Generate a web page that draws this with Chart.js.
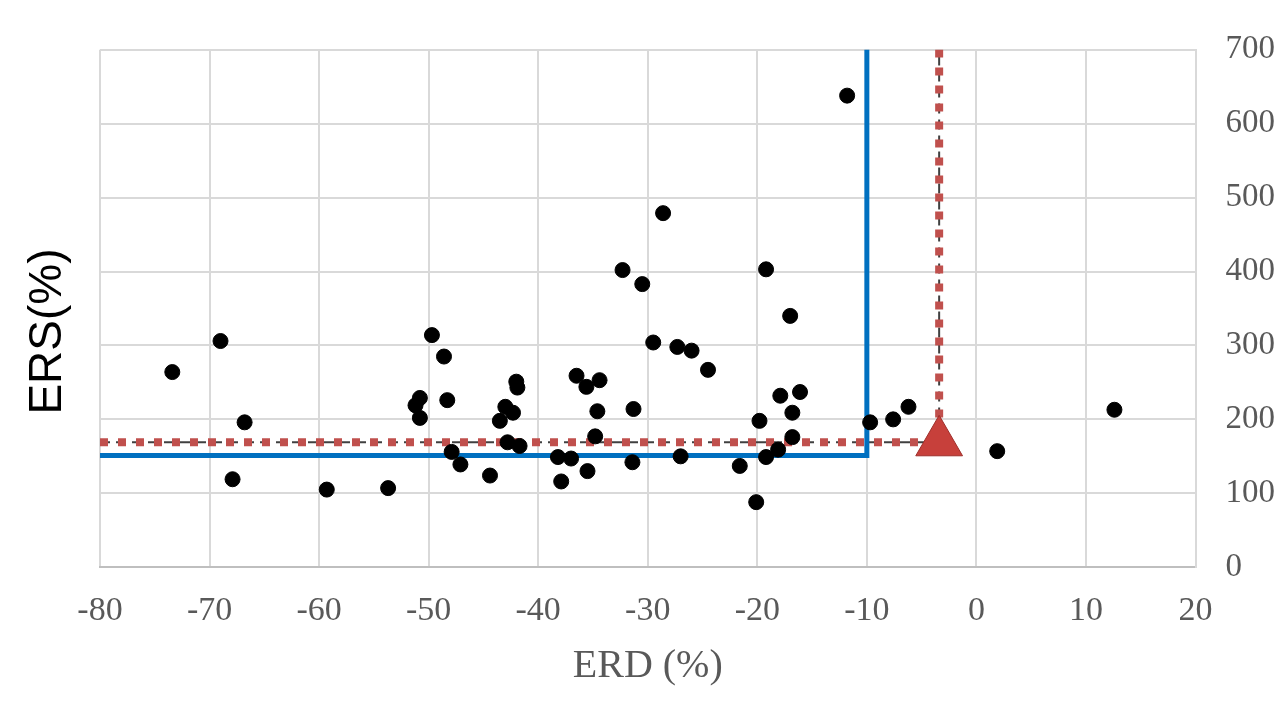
<!DOCTYPE html>
<html>
<head>
<meta charset="utf-8">
<script src="https://cdn.jsdelivr.net/npm/chart.js@4"></script>
<style>
  html, body { margin: 0; padding: 0; background: #fff; }
  #wrap { width: 1281px; height: 711px; position: relative; }
</style>
</head>
<body>
<div id="wrap"><canvas id="erdChart"></canvas></div>
<script>
// ERD (%) / ERS (%) pairs
const erd = [
  -73.4, -69.0, -66.8, -67.9, -59.3, -53.7, -49.7, -48.6, -50.8, -51.2,
  -50.8, -48.3, -47.9, -47.1, -44.4, -43.5, -43.0, -42.3, -42.0, -41.9,
  -42.8, -41.7, -38.2, -37.0, -37.9, -36.5, -35.6, -34.4, -34.6, -34.8,
  -35.5, -31.3, -31.4, -32.3, -30.5, -28.6, -29.5, -27.3, -26.0, -24.5,
  -27.0, -21.6, -20.1, -19.8, -19.2, -19.2, -18.1, -17.9, -17.0, -16.8,
  -16.8, -16.1, -11.8, -9.7, -7.6, -6.2, 1.9, 12.6
]
const ers = [
  264, 306, 196, 119, 105, 107, 314, 285, 229, 219,
  202, 226, 156, 139, 124, 198, 217, 209, 251, 243,
  169, 164, 149, 147, 116, 259, 244, 253, 211, 177,
  130, 214, 142, 402, 383, 479, 304, 298, 293, 267,
  150, 137, 88, 198, 403, 149, 159, 232, 340, 209,
  176, 237, 638, 196, 200, 217, 157, 213
]

// threshold boxes
const blueErd = -10
const blueErs = 151
const redErd = -3.4
const redErs = 169

// axis ticks
const xTicks = [-80, -70, -60, -50, -40, -30, -20, -10, 0, 10, 20]
const yTicks = [0, 100, 200, 300, 400, 500, 600, 700]

const serif = "'Liberation Serif', 'Times New Roman', serif"

const points = erd.map((x, i) => ({ x: x, y: ers[i] }))
const blueLine = [
  { x: xTicks[0], y: blueErs },
  { x: blueErd, y: blueErs },
  { x: blueErd, y: yTicks[yTicks.length - 1] }
]
const redLine = [
  { x: xTicks[0], y: redErs },
  { x: redErd, y: redErs },
  { x: redErd, y: yTicks[yTicks.length - 1] }
]

// left side title (the y axis itself sits on the right)
const leftTitle = {
  id: 'leftTitle',
  afterDraw(chart) {
    const ctx = chart.ctx
    const area = chart.chartArea
    ctx.save()
    ctx.translate(48, (area.top + area.bottom) / 2 + 23)
    ctx.rotate(-Math.PI / 2)
    ctx.font = "46px 'Liberation Sans', Arial, sans-serif"
    ctx.fillStyle = '#000'
    ctx.textAlign = 'center'
    ctx.textBaseline = 'middle'
    ctx.fillText('ERS(%)', 0, 0)
    ctx.restore()
  }
}

new Chart(
  document.getElementById('erdChart'),
  {
    type: 'scatter',
    plugins: [leftTitle],
    data: {
      datasets: [
        {
          label: 'ERD/ERS',
          data: points,
          backgroundColor: '#000',
          borderColor: '#000',
          pointRadius: 7.5,
          pointHoverRadius: 7.5
        },
        {
          label: 'mean',
          data: [{ x: redErd, y: redErs }],
          pointStyle: 'triangle',
          backgroundColor: '#c7403b',
          borderColor: '#9e2f2b',
          borderWidth: 1,
          pointRadius: 27,
          pointHoverRadius: 27
        },
        {
          label: 'blue',
          data: blueLine,
          showLine: true,
          borderColor: '#0070c0',
          borderWidth: 5,
          pointRadius: 0,
          fill: false,
          clip: false
        },
        {
          label: 'red',
          data: redLine,
          showLine: true,
          borderColor: '#c0504d',
          borderWidth: 8,
          borderDash: [8, 10],
          pointRadius: 0,
          fill: false,
          clip: false
        },
        {
          label: 'black',
          data: redLine,
          showLine: true,
          borderColor: '#404040',
          borderWidth: 2,
          borderDash: [10, 6],
          pointRadius: 0,
          fill: false,
          clip: false
        }
      ]
    },
    options: {
      responsive: true,
      maintainAspectRatio: false,
      animation: false,
      layout: {
        padding: { left: 100, right: -24, top: 40, bottom: 21 }
      },
      plugins: {
        legend: { display: false },
        tooltip: { enabled: false }
      },
      scales: {
        x: {
          type: 'linear',
          min: xTicks[0],
          max: xTicks[xTicks.length - 1],
          afterBuildTicks: axis => { axis.ticks = xTicks.map(v => ({ value: v })) },
          grid: { color: '#d9d9d9', lineWidth: 2, drawTicks: false },
          border: { color: '#bfbfbf', width: 2 },
          ticks: {
            color: '#595959',
            padding: 23,
            font: { family: serif, size: 34 }
          },
          title: {
            display: true,
            text: 'ERD (%)',
            color: '#595959',
            padding: { top: -12, bottom: 0 },
            font: { family: serif, size: 40 }
          }
        },
        y: {
          type: 'linear',
          position: 'right',
          min: yTicks[0],
          max: yTicks[yTicks.length - 1],
          afterBuildTicks: axis => { axis.ticks = yTicks.map(v => ({ value: v })) },
          grid: { color: '#d9d9d9', lineWidth: 2, drawTicks: false },
          border: { color: '#d9d9d9', width: 2 },
          ticks: {
            color: '#595959',
            padding: 30,
            font: { family: serif, size: 33 }
          }
        }
      }
    }
  }
);
</script>
</body>
</html>
